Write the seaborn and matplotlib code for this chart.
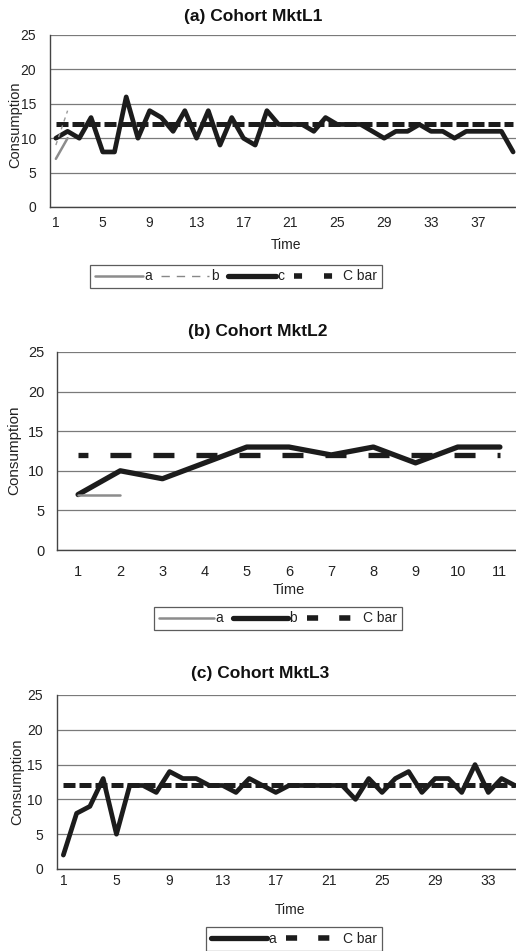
import matplotlib
matplotlib.use("Agg")
import matplotlib.pyplot as plt
from matplotlib.lines import Line2D
import seaborn as sns
import numpy as np

sns.set_style("white")
plt.rcParams['font.family'] = ['Liberation Sans', 'DejaVu Sans']

# ---------------- data ----------------
time_a = list(range(1, 41))
mktl1_c = [10, 11, 10, 13, 8, 8, 16, 10, 14, 13, 11, 14, 10, 14, 9, 13, 10, 9, 14, 12,
           12, 12, 11, 13, 12, 12, 12, 11, 10, 11, 11, 12, 11, 11, 10, 11, 11, 11, 11, 8]
mktl1_a = [7, 10]
mktl1_b = [9, 14]
time_a_short = [1, 2]

time_b = list(range(1, 12))
mktl2_b = [7, 10, 9, 11, 13, 13, 12, 13, 11, 13, 13]
mktl2_a = [7, 7]
time_b_short = [1, 2]

time_c = list(range(1, 36))
mktl3_a = [2, 8, 9, 13, 5, 12, 12, 11, 14, 13, 13, 12, 12, 11, 13, 12, 11, 12, 12, 12,
           12, 12, 10, 13, 11, 13, 14, 11, 13, 13, 11, 15, 11, 13, 12]

c_bar = 12
titles = ["(a) Cohort MktL1", "(b) Cohort MktL2", "(c) Cohort MktL3"]
xtick_a = [1, 5, 9, 13, 17, 21, 25, 29, 33, 37]
xtick_b = list(range(1, 12))
xtick_c = [1, 5, 9, 13, 17, 21, 25, 29, 33]
yticks = [0, 5, 10, 15, 20, 25]

# ---------------- layout ----------------
W, H = 516, 951
fig = plt.figure(figsize=(W / 100, H / 100), dpi=100)
fig.patch.set_facecolor("white")


def rect(x0, y0, x1, y1):
    return [x0 / W, 1 - y1 / H, (x1 - x0) / W, (y1 - y0) / H]


BLACK = "#1c1c1c"
GRAY = "#8c8c8c"


def style_axes(ax, box, n, xticks, fs, xpad, ypad, ylab_xy, xlab_xy, ylab_fs=10.5):
    x0, y0, x1, y1 = box
    ax.set_xlim(0.5, n + 0.5)
    ax.set_ylim(0, 25)
    ax.set_yticks(yticks)
    ax.set_xticks(xticks)
    ax.set_xticks(np.arange(0.5, n + 1, 1.0), minor=True)
    ax.tick_params(axis="x", which="major", length=0, pad=xpad, labelsize=fs, colors="#222")
    ax.tick_params(axis="x", which="minor", length=4, width=0.8, color="#444", direction="out")
    ax.tick_params(axis="y", which="major", length=4, width=0.8, color="#444", pad=ypad,
                   labelsize=fs, labelcolor="#222", direction="out")
    ax.grid(axis="y", color="#7a7a7a", lw=0.9)
    ax.grid(axis="x", visible=False)
    ax.set_axisbelow(True)
    for s in ["top", "right"]:
        ax.spines[s].set_visible(False)
    for s in ["left", "bottom"]:
        ax.spines[s].set_color("#444")
        ax.spines[s].set_linewidth(1.0)
    ax.set_facecolor("white")
    ax.set_ylabel("Consumption", fontsize=ylab_fs, color="#222")
    ax.set_xlabel("Time", fontsize=fs, color="#222")
    # place labels at measured pixel centres
    lx, ly = ylab_xy
    ax.yaxis.set_label_coords((lx - x0) / (x1 - x0), (y1 - ly) / (y1 - y0))
    ax.yaxis.label.set_verticalalignment("center")
    tx, ty = xlab_xy
    ax.xaxis.set_label_coords((tx - x0) / (x1 - x0), (y1 - ty) / (y1 - y0))
    ax.xaxis.label.set_verticalalignment("center")


# ---- panel (a) ----
box_a = (50, 35, 519, 207)
ax_a = fig.add_axes(rect(*box_a))
sns.lineplot(x=time_a, y=[c_bar] * len(time_a), ax=ax_a, color=BLACK, lw=3.6,
             linestyle=(0, (2.4, 0.8)), zorder=3)
sns.lineplot(x=time_a, y=mktl1_c, ax=ax_a, color=BLACK, lw=3.4, zorder=4)
sns.lineplot(x=time_a_short, y=mktl1_a, ax=ax_a, color=GRAY, lw=1.8, zorder=5)
sns.lineplot(x=time_a_short, y=mktl1_b, ax=ax_a, color="#9a9a9a", lw=1.0,
             linestyle=(0, (3, 3)), zorder=5)
style_axes(ax_a, box_a, 40, xtick_a, 10, 6.5, 6, (15, 125), (286, 245))
fig.text(253 / W, 1 - 16.5 / H, titles[0], ha="center", va="center",
         fontsize=12.5, fontweight="bold", color="#111")

# ---- panel (b) ----
box_b = (57, 352, 521, 550)
ax_b = fig.add_axes(rect(*box_b))
sns.lineplot(x=time_b, y=[c_bar] * len(time_b), ax=ax_b, color=BLACK, lw=3.8,
             linestyle=(2.1, (3.98, 4.17)), zorder=3)
sns.lineplot(x=time_b, y=mktl2_b, ax=ax_b, color=BLACK, lw=3.8, zorder=4)
sns.lineplot(x=time_b_short, y=mktl2_a, ax=ax_b, color=GRAY, lw=1.8, zorder=5)
style_axes(ax_b, box_b, 11, xtick_b, 10.5, 11, 5, (14, 450), (289, 590), ylab_fs=11)
fig.text(258 / W, 1 - 331.5 / H, titles[1], ha="center", va="center",
         fontsize=12.5, fontweight="bold", color="#111")

# ---- panel (c) ----
box_c = (56.7, 695, 521.5, 869)
ax_c = fig.add_axes(rect(*box_c))
sns.lineplot(x=time_c, y=[c_bar] * len(time_c), ax=ax_c, color=BLACK, lw=3.6,
             linestyle=(0, (2.4, 0.8)), zorder=3)
sns.lineplot(x=time_c, y=mktl3_a, ax=ax_c, color=BLACK, lw=3.4, zorder=4)
style_axes(ax_c, box_c, 35, xtick_c, 10, 3.5, 6, (17, 782), (290, 910))
fig.text(260 / W, 1 - 673.5 / H, titles[2], ha="center", va="center",
         fontsize=12.5, fontweight="bold", color="#111")


# ---------------- legends ----------------
def legend_at(handles, labels, cx, cy, hl):
    leg = fig.legend(handles, labels, bbox_to_anchor=(cx / W, 1 - cy / H), loc="center",
                     ncol=len(labels), frameon=True, fancybox=False, fontsize=10,
                     handletextpad=0.1, columnspacing=0.7, borderpad=0.35,
                     handlelength=hl, borderaxespad=0)
    fr = leg.get_frame()
    fr.set_edgecolor("#333")
    fr.set_linewidth(0.9)
    fr.set_boxstyle("square", pad=0)
    for t in leg.get_texts():
        t.set_color("#222")
    return leg


legend_at([Line2D([], [], color=GRAY, lw=1.8),
           Line2D([], [], color="#888", lw=1.0, linestyle=(0, (6, 5))),
           Line2D([], [], color=BLACK, lw=3.8),
           Line2D([], [], color=BLACK, lw=4, linestyle=(0, (1.45, 3.95)))],
          ["a", "b", "c", "C bar"], 236, 276.5, 3.45)
legend_at([Line2D([], [], color=GRAY, lw=1.8),
           Line2D([], [], color=BLACK, lw=3.8),
           Line2D([], [], color=BLACK, lw=4, linestyle=(0, (2.0, 3.8)))],
          ["a", "b", "C bar"], 278, 618.5, 3.95)
legend_at([Line2D([], [], color=BLACK, lw=3.8),
           Line2D([], [], color=BLACK, lw=4, linestyle=(0, (2.0, 3.8)))],
          ["a", "C bar"], 294, 939, 4.0)

fig.savefig("out.png", dpi=100, facecolor="white")
